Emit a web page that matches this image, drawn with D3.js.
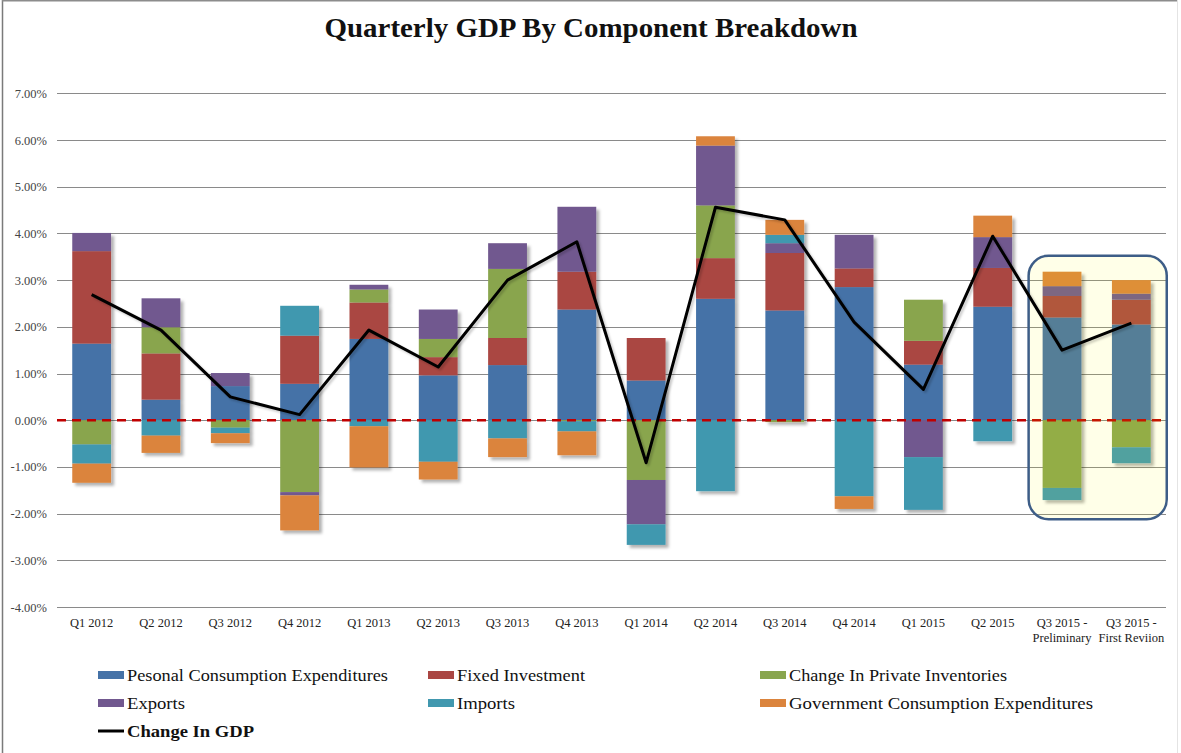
<!DOCTYPE html>
<html>
<head>
<meta charset="utf-8">
<script src="https://cdn.jsdelivr.net/npm/d3@7"></script>
<style>
  html, body { margin: 0; padding: 0; background: #fff; }
  svg { display: block; font-family: "Liberation Serif", "DejaVu Serif", serif; }
</style>
</head>
<body>
<svg id="chart" width="1181" height="753"></svg>
<script>
// ---- Data ----
const categories = ["Q1 2012","Q2 2012","Q3 2012","Q4 2012","Q1 2013","Q2 2013","Q3 2013","Q4 2013",
  "Q1 2014","Q2 2014","Q3 2014","Q4 2014","Q1 2015","Q2 2015","Q3 2015 -|Preliminary","Q3 2015 -|First Reviion"];
const seriesNames = ["Pesonal Consumption Expenditures","Fixed Investment","Change In Private Inventories",
  "Exports","Imports","Government Consumption Expenditures"];
const pce         = [1.64, 0.44, 0.73, 0.78, 1.74, 0.96, 1.18, 2.37, 0.85, 2.60, 2.35, 2.85, 1.19, 2.43, 2.20, 2.05];
const fixedInv    = [1.98, 0.99, 0.00, 1.03, 0.78, 0.39, 0.58, 0.81, 0.91, 0.87, 1.23, 0.40, 0.51, 0.83, 0.46, 0.53];
const inventories = [-0.52, 0.56, -0.16, -1.54, 0.28, 0.39, 1.48, -0.02, -1.28, 1.13, -0.04, 0.00, 0.88, 0.00, -1.45, -0.58];
const exportsV    = [0.39, 0.62, 0.28, -0.07, 0.10, 0.63, 0.55, 1.39, -0.95, 1.28, 0.21, 0.72, -0.79, 0.66, 0.21, 0.13];
const importsV    = [-0.41, -0.33, -0.12, 0.64, -0.13, -0.89, -0.39, -0.22, -0.44, -1.52, 0.18, -1.63, -1.13, -0.45, -0.26, -0.34];
const govt        = [-0.41, -0.37, -0.21, -0.75, -0.88, -0.38, -0.40, -0.51, 0.00, 0.20, 0.32, -0.27, 0.00, 0.46, 0.31, 0.29];
const gdpChange   = [2.69, 1.93, 0.50, 0.12, 1.93, 1.14, 3.00, 3.82, -0.91, 4.56, 4.29, 2.10, 0.66, 3.94, 1.50, 2.08];
const yTicks = [-4, -3, -2, -1, 0, 1, 2, 3, 4, 5, 6, 7];
const highlighted = ["Q3 2015 -|Preliminary", "Q3 2015 -|First Reviion"];

const colors = ["#4572A7", "#AA4643", "#89A54E", "#71588F", "#4198AF", "#DB843D"];
const seriesArrays = [pce, fixedInv, inventories, exportsV, importsV, govt];

// ---- Build table ----
const rows = categories.map((c, i) => {
  const r = { cat: c };
  seriesNames.forEach((s, j) => r[s] = seriesArrays[j][i]);
  return r;
});

const svg = d3.select("#chart");

// frame (left/top darker, right faint)
svg.append("line").attr("x1", 2.5).attr("x2", 2.5).attr("y1", 0).attr("y2", 753).attr("stroke", "#7a7a7a").attr("stroke-width", 1.5);
svg.append("line").attr("x1", 2).attr("x2", 1178).attr("y1", 0.75).attr("y2", 0.75).attr("stroke", "#8c8c8c").attr("stroke-width", 1.5);
svg.append("line").attr("x1", 1177.5).attr("x2", 1177.5).attr("y1", 0).attr("y2", 753).attr("stroke", "#e4e4e4").attr("stroke-width", 1);

// defs
const defs = svg.append("defs");
const f = defs.append("filter").attr("id", "shadow").attr("x", "-20%").attr("y", "-20%").attr("width", "150%").attr("height", "150%");
f.append("feDropShadow").attr("dx", 3).attr("dy", 3).attr("stdDeviation", 1.6)
  .attr("flood-color", "#000").attr("flood-opacity", 0.3);
const f2 = defs.append("filter").attr("id", "lshadow").attr("x", "-5%").attr("y", "-5%").attr("width", "110%").attr("height", "110%");
f2.append("feDropShadow").attr("dx", 2).attr("dy", 2).attr("stdDeviation", 1.2)
  .attr("flood-color", "#000").attr("flood-opacity", 0.2);

// scales
const x = d3.scaleBand().domain(categories).range([57, 1166]).paddingInner(0.44).paddingOuter(0.22);
const y = d3.scaleLinear().domain([-4, 7]).range([607, 93.3]);

// title
svg.append("text").attr("x", 591).attr("y", 37).attr("text-anchor", "middle")
  .attr("font-size", 27).attr("font-weight", "bold").attr("fill", "#111")
  .attr("textLength", 533).attr("lengthAdjust", "spacingAndGlyphs")
  .text("Quarterly GDP By Component Breakdown");

// gridlines
svg.append("g").selectAll("line").data(yTicks).join("line")
  .attr("x1", 57).attr("x2", 1166)
  .attr("y1", d => Math.round(y(d)) + 0.5).attr("y2", d => Math.round(y(d)) + 0.5)
  .attr("stroke", "#8a8a8a").attr("stroke-width", 1);

// y labels (hyphen minus as in the reference)
const fmt = d3.formatLocale({ decimal: ".", thousands: ",", grouping: [3], currency: ["", ""], minus: "-" }).format(".2f");
const yAxis = d3.axisLeft(y).tickValues(yTicks).tickSize(0).tickPadding(10)
  .tickFormat(d => fmt(d) + "%");
const ya = svg.append("g").attr("transform", "translate(57,0)").call(yAxis);
ya.select(".domain").remove();
ya.selectAll("text").attr("font-family", "Liberation Serif, serif").attr("font-size", 12.5).attr("fill", "#444");

// stack
const stack = d3.stack().keys(seriesNames).offset(d3.stackOffsetDiverging);
const stacked = stack(rows);

// bars grouped per category for shadow
const barG = svg.append("g");
categories.forEach((c, i) => {
  const g = barG.append("g").attr("filter", "url(#shadow)");
  stacked.forEach((layer, j) => {
    const d = layer[i];
    if (d[1] - d[0] === 0) return;
    g.append("rect")
      .attr("x", x(c)).attr("width", x.bandwidth())
      .attr("y", y(Math.max(d[0], d[1])))
      .attr("height", Math.abs(y(d[0]) - y(d[1])))
      .attr("fill", colors[j]);
  });
});

// zero dashed line
svg.append("line").attr("x1", 57).attr("x2", 1166).attr("y1", y(0)).attr("y2", y(0))
  .attr("stroke", "#c00000").attr("stroke-width", 2.5).attr("stroke-dasharray", "9,6");

// highlight box
const hx0 = x(highlighted[0]) - 14, hx1 = x(highlighted[1]) + x.bandwidth() + 16;
svg.append("rect").attr("x", hx0).attr("y", y(3.52)).attr("width", hx1 - hx0)
  .attr("height", y(-2.12) - y(3.52)).attr("rx", 20).attr("ry", 20)
  .attr("fill", "#ffff00").attr("fill-opacity", 0.09)
  .attr("stroke", "#3d5d87").attr("stroke-width", 2.5);

// GDP line
const line = d3.line().x((d, i) => x(categories[i]) + x.bandwidth() / 2).y(d => y(d));
svg.append("path").datum(gdpChange).attr("d", line).attr("fill", "none")
  .attr("stroke", "#000").attr("stroke-width", 3).attr("stroke-linejoin", "round")
  .attr("filter", "url(#lshadow)");

// x labels
const xl = svg.append("g");
categories.forEach(c => {
  const parts = c.split("|");
  const t = xl.append("text").attr("x", x(c) + x.bandwidth() / 2).attr("y", 627)
    .attr("text-anchor", "middle").attr("font-size", 12.5).attr("fill", "#222");
  parts.forEach((p, k) => {
    t.append("tspan").attr("x", x(c) + x.bandwidth() / 2).attr("dy", k === 0 ? 0 : 15).text(p);
  });
});

// legend
const legendItems = [
  { name: seriesNames[0], c: colors[0], sx: 98, row: 0, w: 261 },
  { name: seriesNames[1], c: colors[1], sx: 428, row: 0, w: 128 },
  { name: seriesNames[2], c: colors[2], sx: 760, row: 0, w: 218 },
  { name: seriesNames[3], c: colors[3], sx: 98, row: 1, w: 58 },
  { name: seriesNames[4], c: colors[4], sx: 428, row: 1, w: 58 },
  { name: seriesNames[5], c: colors[5], sx: 760, row: 1, w: 304 }
];
const rowY = [675, 703, 731];
const lg = svg.append("g");
legendItems.forEach(it => {
  lg.append("rect").attr("x", it.sx).attr("y", rowY[it.row] - 4).attr("width", 26).attr("height", 8).attr("fill", it.c);
  lg.append("text").attr("x", it.sx + 29).attr("y", rowY[it.row] + 5.5).attr("font-size", 17).attr("fill", "#111")
    .attr("textLength", it.w).attr("lengthAdjust", "spacingAndGlyphs").text(it.name);
});
lg.append("line").attr("x1", 98).attr("x2", 124).attr("y1", rowY[2]).attr("y2", rowY[2]).attr("stroke", "#000").attr("stroke-width", 3);
lg.append("text").attr("x", 127).attr("y", rowY[2] + 5.5).attr("font-size", 17).attr("font-weight", "bold").attr("fill", "#111")
  .attr("textLength", 127).attr("lengthAdjust", "spacingAndGlyphs").text("Change In GDP");
</script>
</body>
</html>
